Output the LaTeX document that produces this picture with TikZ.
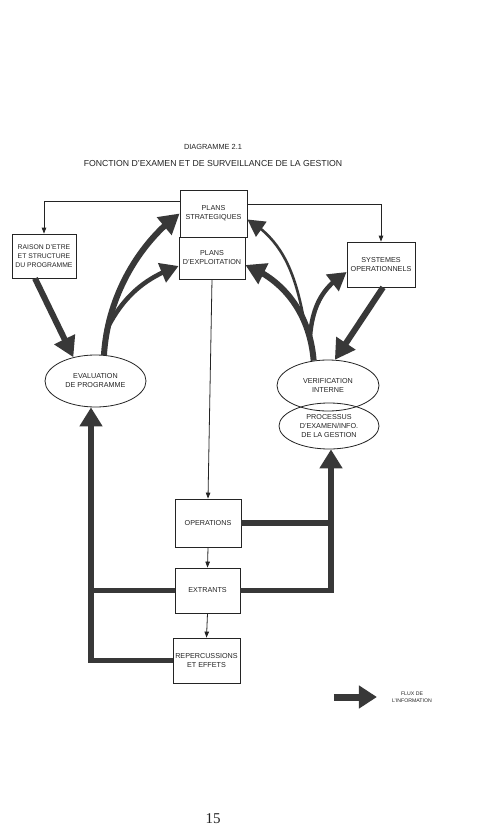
\documentclass[tikz,border=0pt]{standalone}
\usepackage{fontspec}
\setmainfont{Liberation Sans}
\newfontfamily\pagenumfont{Liberation Serif}
\usetikzlibrary{arrows.meta,shapes.geometric,bending}
\definecolor{ink}{HTML}{242424}
\definecolor{flow}{HTML}{383838}
\begin{document}
\begin{tikzpicture}[x=1pt,y=-1pt,
  txt/.style={text=ink, inner sep=0pt, align=center, font=\fontsize{7.2}{9}\selectfont},
  box/.style={txt, draw=ink, line width=0.8pt, rectangle},
  ell/.style={txt, draw=ink, line width=0.8pt, ellipse},
  thin/.style={draw=ink, line width=0.8pt, -{Triangle[length=6pt,width=4.5pt]}},
  fb/.style={draw=flow, line width=5.5pt, -{Triangle[length=19pt,width=22pt]}},
  fbline/.style={draw=flow, line width=5.5pt},
  big/.style={draw=flow, line width=6pt, -{Triangle[length=20pt,width=22pt]}},
  mid/.style={draw=flow, line width=4.5pt, -{Triangle[length=18pt,width=20pt]}},
  slim/.style={draw=flow, line width=2.6pt, -{Triangle[length=17pt,width=18pt]}}
]
\useasboundingbox[fill=white] (0,0) rectangle (486,840);

% titles
\node[txt, font=\fontsize{7.4}{9}\selectfont] (dia) at (213,147) {DIAGRAMME 2.1};
\node[txt, font=\fontsize{8.7}{10}\selectfont] (title) at (213,164) {FONCTION D'EXAMEN ET DE SURVEILLANCE DE LA GESTION};

% boxes
\node[box, minimum width=67pt, minimum height=47pt] (strat) at (213.5,213.5) {PLANS\\STRATEGIQUES};
\node[box, minimum width=66pt, minimum height=42pt] (expl) at (212,258) {PLANS\\D'EXPLOITATION};
\node[box, minimum width=64pt, minimum height=44pt, font=\fontsize{6.8}{9}\selectfont] (raison) at (44,256) {RAISON D'ETRE\\ET STRUCTURE\\DU PROGRAMME};
\node[box, minimum width=68pt, minimum height=45pt] (sys) at (381,264.5) {SYSTEMES\\OPERATIONNELS};
\node[box, minimum width=66pt, minimum height=48pt] (ops) at (208,523) {OPERATIONS};
\node[box, minimum width=65pt, minimum height=45pt] (ext) at (207.5,590.5) {EXTRANTS};
\node[box, minimum width=67pt, minimum height=45pt] (rep) at (206.5,660.5) {REPERCUSSIONS\\ET EFFETS};

% ellipses
\node[ell, minimum width=101pt, minimum height=52pt] (eval) at (95.5,381) {EVALUATION\\DE PROGRAMME};
\node[ell, minimum width=102pt, minimum height=51pt] (verif) at (328,385.5) {VERIFICATION\\INTERNE};
\node[ell, minimum width=100pt, minimum height=46pt] (proc) at (329,426) {PROCESSUS\\D'EXAMEN/INFO.\\DE LA GESTION};

% thin connectors
\draw[thin] ([yshift=12pt]strat.west) -| (raison.north);
\draw[thin] ([yshift=9pt]strat.east) -| (sys.north);
\draw[thin] (expl.south) -- (ops.north);
\draw[thin] (ops.south) -- (ext.north);
\draw[thin] (ext.south) -- (rep.north);

% feedback lines
\coordinate (fbL) at (91,0);
\coordinate (fbR) at (331,0);
\draw[fb] (rep.west) -| (fbL |- eval.south);
\draw[fbline] (ext.west) -- (ext.west -| fbL);
\draw[fb] (ext.east) -| (fbR |- proc.south);
\draw[fbline] (ops.east) -- (ops.east -| fbR);

% left information flows
\draw[big] ([xshift=-9pt]raison.south) -- (eval.133);
\draw[big] (eval.72) .. controls (108,290) and (145,238) .. (strat.west);
\coordinate (splitL) at (108,327);
\draw[mid] (splitL) .. controls (126,292) and (150,276) .. ([yshift=-8pt]expl.west);

% right information flows
\draw[big] (verif.120) .. controls (310,315) and (285,280) .. ([yshift=-7pt]expl.east);
\coordinate (splitR) at (304,320);
\draw[slim] (splitR) .. controls (295,272) and (282,240) .. ([yshift=-6pt]strat.east);
\coordinate (splitR2) at (310,336);
\draw[mid] (splitR2) .. controls (313,302) and (325,286) .. ([yshift=-7.5pt]sys.west);
\draw[big] ([xshift=2pt]sys.south) -- (verif.75);

% legend
\node[txt, font=\fontsize{5.2}{7.5}\selectfont] (leg) at (412,697) {FLUX DE\\L'INFORMATION};
\draw[draw=flow, line width=7pt, -{Triangle[length=18pt,width=22pt]}] ([xshift=-58pt]leg.west) -- ([xshift=-15pt]leg.west);

% page number
\node[text=ink, inner sep=0pt, font=\pagenumfont\fontsize{15}{15}\selectfont] (pg) at (213,819) {15};
\end{tikzpicture}
\end{document}
